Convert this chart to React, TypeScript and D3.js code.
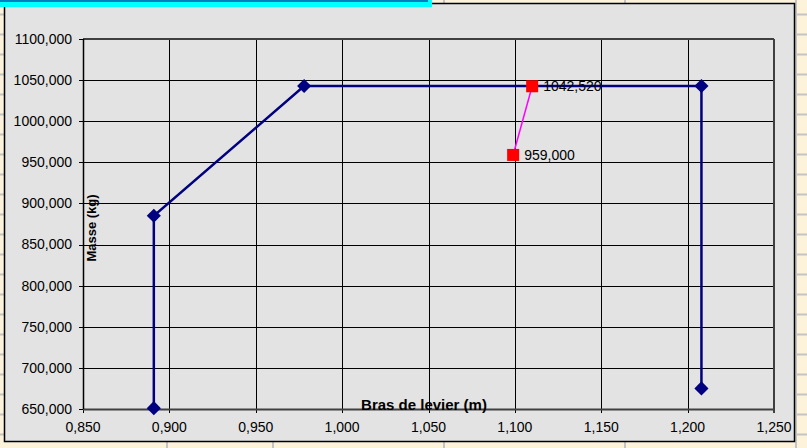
import React from "react";
import * as d3 from "d3";

const W = 807;
const H = 448;

const xTicks = [0.85, 0.9, 0.95, 1.0, 1.05, 1.1, 1.15, 1.2, 1.25];
const yTicks = [650, 700, 750, 800, 850, 900, 950, 1000, 1050, 1100];

const envelopeX = [0.891, 0.891, 0.978, 1.208, 1.208];
const envelopeY = [651, 885, 1042.8, 1042.8, 675];

const pointX = [1.099, 1.11];
const pointY = [959, 1042.52];
const pointLabels = ["959,000", "1042,520"];

const rowLines = d3.range(-6, 460, 20);
const colLinesBottom = [167, 273, 444, 625, 796];

const fmt = (v: number, d: number) => v.toFixed(d).replace(".", ",");

export default function App() {
  const left = 83, right = 774, top = 39, bottom = 409;
  const x = d3.scaleLinear().domain([0.85, 1.25]).range([left, right]);
  const y = d3.scaleLinear().domain([650, 1100]).range([bottom, top]);
  const line = d3.line<number>().x((_, i) => x(envelopeX[i])).y((d) => y(d));
  const redLine = d3.line<number>().x((_, i) => x(pointX[i])).y((d) => y(d));
  const font = "'Liberation Sans', Arial, sans-serif";

  return (
    <svg width={W} height={H} style={{ position: "absolute", left: 0, top: 0 }}>
      <rect x={0} y={0} width={W} height={H} fill="#FDF3DB" />
      {rowLines.map((r) => (
        <line key={"r" + r} x1={0} x2={W} y1={r + 0.5} y2={r + 0.5} stroke="#C4C4C4" strokeWidth={2} />
      ))}
      {colLinesBottom.map((c) => (
        <line key={"c" + c} x1={c} x2={c} y1={0} y2={H} stroke="#C4C4C4" strokeWidth={2} />
      ))}
      <rect x={4.5} y={3.5} width={790} height={438} fill="#E3E3E3" stroke="#000" strokeWidth={1.5} />
      <rect x={0} y={0} width={432} height={7} fill="#00FFFF" />
      <line x1={0} x2={428} y1={1} y2={1} stroke="#000080" strokeWidth={1} />

      {xTicks.map((t) => (
        <line key={"gx" + t} x1={Math.round(x(t)) + 0.5} x2={Math.round(x(t)) + 0.5} y1={top} y2={bottom + 4} stroke="#000" strokeWidth={1} />
      ))}
      {yTicks.map((t) => (
        <line key={"gy" + t} x1={left - 4} x2={right} y1={Math.round(y(t)) + 0.5} y2={Math.round(y(t)) + 0.5} stroke="#000" strokeWidth={1} />
      ))}
      <line x1={left} x2={right} y1={top} y2={top} stroke="#404040" strokeWidth={2} />
      <line x1={right} x2={right} y1={top} y2={bottom + 4} stroke="#404040" strokeWidth={2} />
      <line x1={left} x2={right} y1={bottom + 0.5} y2={bottom + 0.5} stroke="#404040" strokeWidth={2} />
      <line x1={left + 0.5} x2={left + 0.5} y1={top} y2={bottom} stroke="#000" strokeWidth={1.5} />

      {yTicks.map((t) => (
        <text key={"ty" + t} x={72} y={y(t)} dy="0.35em" textAnchor="end" fontFamily={font} fontSize={14} fill="#000">
          {fmt(t, 3)}
        </text>
      ))}
      {xTicks.map((t) => (
        <text key={"tx" + t} x={x(t)} y={432} textAnchor="middle" fontFamily={font} fontSize={14} fill="#000">
          {fmt(t, 3)}
        </text>
      ))}

      <text x={424} y={410} textAnchor="middle" fontFamily={font} fontSize={15} fontWeight="bold" fill="#000">
        Bras de levier (m)
      </text>
      <text transform="translate(96,228) rotate(-90)" textAnchor="middle" fontFamily={font} fontSize={13} fontWeight="bold" fill="#000">
        Masse (kg)
      </text>

      <path d={line(envelopeY) || ""} fill="none" stroke="#000080" strokeWidth={2.5} />
      {envelopeY.map((v, i) => (
        <rect key={"d" + i} x={-5} y={-5} width={10} height={10} transform={`translate(${x(envelopeX[i])},${y(v)}) rotate(45)`} fill="#000080" />
      ))}

      <path d={redLine(pointY) || ""} fill="none" stroke="#FF00FF" strokeWidth={1.5} />
      {pointY.map((v, i) => (
        <rect key={"s" + i} x={x(pointX[i]) - 6} y={y(v) - 6} width={12} height={12} fill="#FF0000" />
      ))}
      {pointY.map((v, i) => (
        <text key={"l" + i} x={x(pointX[i]) + 11} y={y(v)} dy="0.35em" fontFamily={font} fontSize={14} fill="#000">
          {pointLabels[i]}
        </text>
      ))}
    </svg>
  );
}
